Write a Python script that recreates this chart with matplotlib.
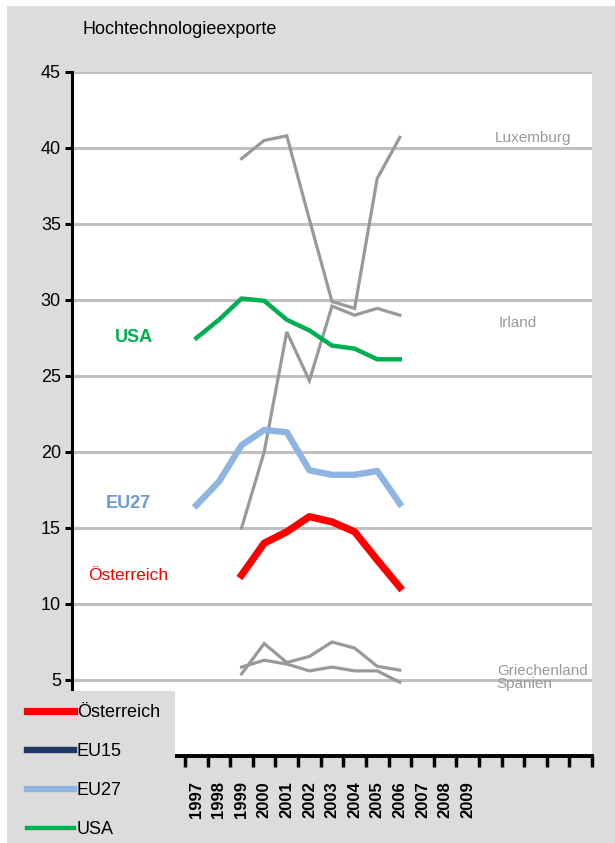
import matplotlib
matplotlib.use("Agg")
import matplotlib.pyplot as plt
from matplotlib.patches import Rectangle
import numpy as np

plt.rcParams['font.family'] = ['Liberation Sans', 'DejaVu Sans']

# Kategorien (Jahre) und Daten
jahre = list(range(1992, 2015))
jahr_labels = [str(j) if 1997 <= j <= 2009 else "" for j in jahre]

jahre_usa = list(range(1997, 2007))
usa = [27.5, 28.7, 30.1, 29.95, 28.7, 28.0, 27.0, 26.8, 26.1, 26.1]
eu27 = [16.5, 18.05, 20.45, 21.45, 21.3, 18.8, 18.5, 18.5, 18.75, 16.6]

jahre_at = list(range(1999, 2007))
oesterreich = [11.9, 14.0, 14.75, 15.75, 15.4, 14.75, 12.9, 11.1]
luxemburg = [39.3, 40.5, 40.8, 35.3, 29.9, 29.45, 38.0, 40.7]
irland = [15.0, 20.0, 27.9, 24.7, 29.6, 29.0, 29.45, 29.0]
griechenland = [5.4, 7.4, 6.15, 6.55, 7.5, 7.1, 5.9, 5.65]
spanien = [5.85, 6.3, 6.05, 5.6, 5.85, 5.6, 5.6, 4.85]
eu15 = []

rot = "#FF0000"
gruen = "#00B050"
hellblau = "#8DB4E2"
dunkelblau = "#1F3864"
grau = "#999999"
hintergrund = "#DCDCDC"

fig = plt.figure(figsize=(6.15, 8.43), dpi=100)
fig.patch.set_facecolor("white")
fig.add_artist(Rectangle((7 / 615, 0), 1, 1 - 6 / 843, transform=fig.transFigure,
                         facecolor=hintergrund, edgecolor="none", zorder=-10))

ax = fig.add_axes([72 / 615, 1 - 756 / 843, (592 - 72) / 615, (756 - 72) / 843])
ax.set_facecolor("white")

ax.set_xlim(jahre[0] - 0.5, jahre[-1] + 0.5)
ax.set_ylim(0, 45)

# Gitterlinien
for v in range(5, 50, 5):
    ax.axhline(v, color="#C0C0C0", lw=2.2, zorder=1)

# Graue Länderlinien
for werte in [luxemburg, irland, griechenland, spanien]:
    ax.plot(jahre_at, werte, color=grau, lw=2.3, zorder=2, solid_joinstyle="miter")

ax.plot(jahre_usa, usa, color=gruen, lw=3.2, zorder=3, label="USA")
ax.plot(jahre_usa, eu27, color=hellblau, lw=4.6, zorder=3, label="EU27")
ax.plot(jahre_usa[:0], eu15, color=dunkelblau, lw=4.6, label="EU15")
ax.plot(jahre_at, oesterreich, color=rot, lw=5.2, zorder=4, label="Österreich")

# Beschriftungen
ax.text(2011.9, 40.2, "Luxemburg", color=grau, fontsize=11, ha="center", va="bottom")
ax.text(2011.2, 28.5, "Irland", color=grau, fontsize=11, ha="center", va="center")
ax.text(2012.3, 5.6, "Griechenland", color=grau, fontsize=11, ha="center", va="center")
ax.text(2011.5, 4.75, "Spanien", color=grau, fontsize=11, ha="center", va="center")

ax.text(1994.24, 27.5, "USA", color=gruen, fontsize=13, fontweight="bold", ha="center", va="center")
ax.text(1994.0, 16.6, "EU27", color="#6C9AD5", fontsize=13, fontweight="bold", ha="center", va="center")
ax.text(1994.0, 11.9, "Österreich", color=rot, fontsize=12.5, ha="center", va="center")

fig.text(83 / 615, 1 - 30 / 843, "Hochtechnologieexporte", fontsize=13, ha="left", va="center")

# Achsen
for s in ["top", "right"]:
    ax.spines[s].set_visible(False)
ax.spines["left"].set_linewidth(2.2)
ax.spines["bottom"].set_linewidth(2.8)
ax.spines["left"].set_zorder(5)
ax.spines["bottom"].set_zorder(5)

ax.set_yticks(range(5, 50, 5))
ax.set_yticklabels([str(v) for v in range(5, 50, 5)], fontsize=13)
ax.tick_params(axis="y", direction="out", length=5, width=2.2, pad=3)

ax.set_xticks(jahre)
ax.set_xticklabels(jahr_labels, rotation=90, fontsize=12, fontweight="bold")
ax.tick_params(axis="x", which="major", length=0, pad=18)
ax.set_xticks(np.arange(jahre[0] - 0.5, jahre[-1] + 1, 1), minor=True)
ax.tick_params(axis="x", which="minor", direction="out", length=8, width=2.5)

# Legende
fig.add_artist(Rectangle((7 / 615, 0), (175 - 7) / 615, 1 - 691 / 843, transform=fig.transFigure,
                         facecolor=hintergrund, edgecolor="none", zorder=4))
handles, labels = ax.get_legend_handles_labels()
reihenfolge = ["Österreich", "EU15", "EU27", "USA"]
h = [handles[labels.index(l)] for l in reihenfolge]
leg = fig.legend(h, reihenfolge, loc="upper left", bbox_to_anchor=(20 / 615, 1 - 697 / 843),
                 frameon=False, fontsize=13, handlelength=2.6, handletextpad=0.15,
                 labelspacing=1.22, borderaxespad=0)
leg.set_zorder(6)

fig.savefig("out.png", dpi=100)
